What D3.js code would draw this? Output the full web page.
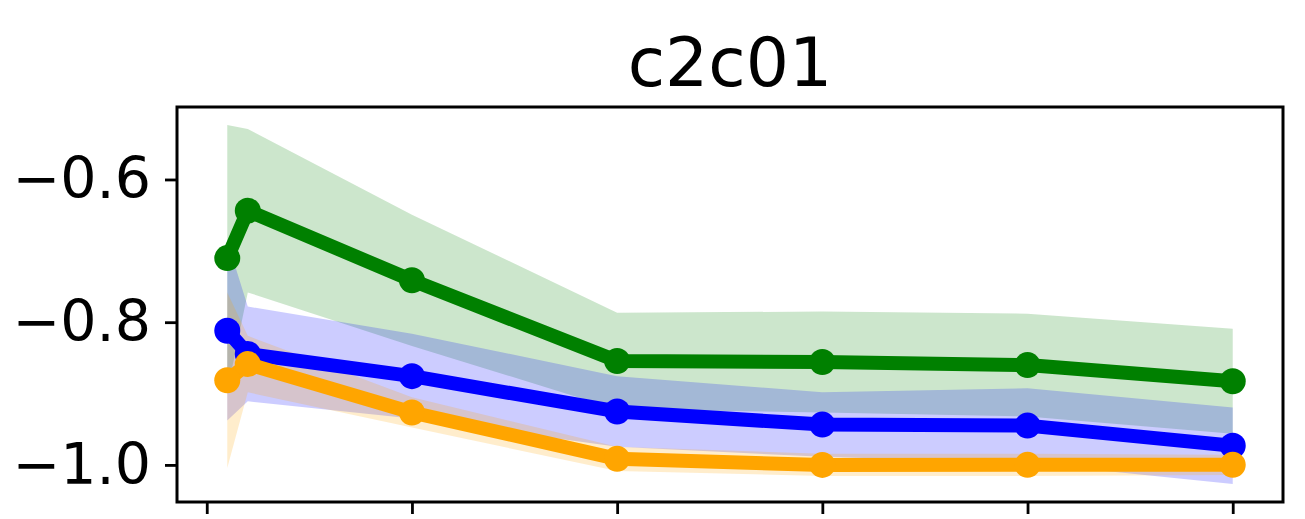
<!DOCTYPE html>
<html>
<head>
<meta charset="utf-8">
<script src="https://cdn.jsdelivr.net/npm/d3@7"></script>
<style>
  html, body { margin: 0; padding: 0; background: #fff; }
  svg { display: block; font-family: "DejaVu Sans", sans-serif; }
</style>
</head>
<body>
<svg id="chart" width="1305" height="519"></svg>
<script>
// Sample positions along the x axis
const xValues = [0.1, 0.2, 1, 2, 3, 4, 5];
const xTicks = [0, 1, 2, 3, 4, 5];
const yTicks = [-1.0, -0.8, -0.6];
const title = "c2c01";

// Mean and spread (one standard deviation) for each series
const greenMean = [-0.7102, -0.6438, -0.7413, -0.8544, -0.8558, -0.8601, -0.8827];
const greenStd  = [0.1866, 0.1145, 0.0919, 0.0678, 0.0707, 0.0721, 0.0735];
const blueMean  = [-0.8120, -0.8445, -0.8756, -0.9251, -0.9435, -0.9449, -0.9731];
const blueStd   = [0.1258, 0.0664, 0.0594, 0.0495, 0.0452, 0.0523, 0.0537];
const orangeMean = [-0.8813, -0.8587, -0.9265, -0.9915, -1.0000, -0.9999, -0.9999];
const orangeStd  = [0.1230, 0.0396, 0.0212, 0.0170, 0.0155, 0.0155, 0.0141];

const series = [
  { color: "#008000", mean: greenMean, std: greenStd },
  { color: "#0000ff", mean: blueMean, std: blueStd },
  { color: "#ffa500", mean: orangeMean, std: orangeStd }
];

const svg = d3.select("#chart");
const margin = { left: 177, top: 107, right: 22, bottom: 17 };
const W = 1305, H = 519;
const plotW = W - margin.left - margin.right;
const plotH = H - margin.top - margin.bottom;

// Axis limits padded by 5% of the data span on each side
function padded(lo, hi) {
  const p = (hi - lo) * 0.05;
  return [lo - p, hi + p];
}
const xDom = padded(d3.min(xValues), d3.max(xValues));
const allLo = d3.min(series.flatMap(s => s.mean.map((m, i) => m - s.std[i])));
const allHi = d3.max(series.flatMap(s => s.mean.map((m, i) => m + s.std[i])));
const yDom = padded(allLo, allHi);

const x = d3.scaleLinear().domain(xDom).range([margin.left, margin.left + plotW]);
const y = d3.scaleLinear().domain(yDom).range([margin.top + plotH, margin.top]);

const g = svg.append("g");

// Shaded bands first
const area = d3.area()
  .x((d, i) => x(xValues[i]))
  .y0(d => y(d.lo))
  .y1(d => y(d.hi));

series.forEach(s => {
  const band = s.mean.map((m, i) => ({ lo: m - s.std[i], hi: m + s.std[i] }));
  g.append("path")
    .datum(band)
    .attr("d", area)
    .attr("fill", s.color)
    .attr("fill-opacity", 0.2)
    .attr("stroke", "none");
});

// Lines with round markers on top
const line = d3.line().x((d, i) => x(xValues[i])).y(d => y(d));
series.forEach(s => {
  g.append("path")
    .datum(s.mean)
    .attr("d", line)
    .attr("fill", "none")
    .attr("stroke", s.color)
    .attr("stroke-width", 14)
    .attr("stroke-linejoin", "round");
  g.selectAll(null)
    .data(s.mean)
    .enter()
    .append("circle")
    .attr("cx", (d, i) => x(xValues[i]))
    .attr("cy", d => y(d))
    .attr("r", 13)
    .attr("fill", s.color);
});

// Axes
const yAxis = d3.axisLeft(y)
  .tickValues(yTicks)
  .tickFormat(d3.format(".1f"))
  .tickSize(12)
  .tickSizeOuter(0)
  .tickPadding(14);
const yG = svg.append("g")
  .attr("transform", `translate(${margin.left},0)`)
  .call(yAxis);
yG.select(".domain").remove();
yG.selectAll(".tick line").attr("stroke", "#000").attr("stroke-width", 2.8);
yG.selectAll(".tick text")
  .attr("fill", "#000")
  .style("font-size", "57px")
  .style("font-family", "'DejaVu Sans', sans-serif");

const xAxis = d3.axisBottom(x)
  .tickValues(xTicks)
  .tickFormat("")
  .tickSize(12)
  .tickSizeOuter(0);
const xG = svg.append("g")
  .attr("transform", `translate(0,${margin.top + plotH})`)
  .call(xAxis);
xG.select(".domain").remove();
xG.selectAll(".tick line").attr("stroke", "#000").attr("stroke-width", 2.8);

// Frame around the plot area
svg.append("rect")
  .attr("x", margin.left)
  .attr("y", margin.top)
  .attr("width", plotW)
  .attr("height", plotH)
  .attr("fill", "none")
  .attr("stroke", "#000")
  .attr("stroke-width", 3);

// Title
svg.append("text")
  .attr("x", margin.left + plotW / 2)
  .attr("y", 86)
  .attr("text-anchor", "middle")
  .attr("fill", "#000")
  .style("font-size", "68px")
  .text(title);
</script>
</body>
</html>
